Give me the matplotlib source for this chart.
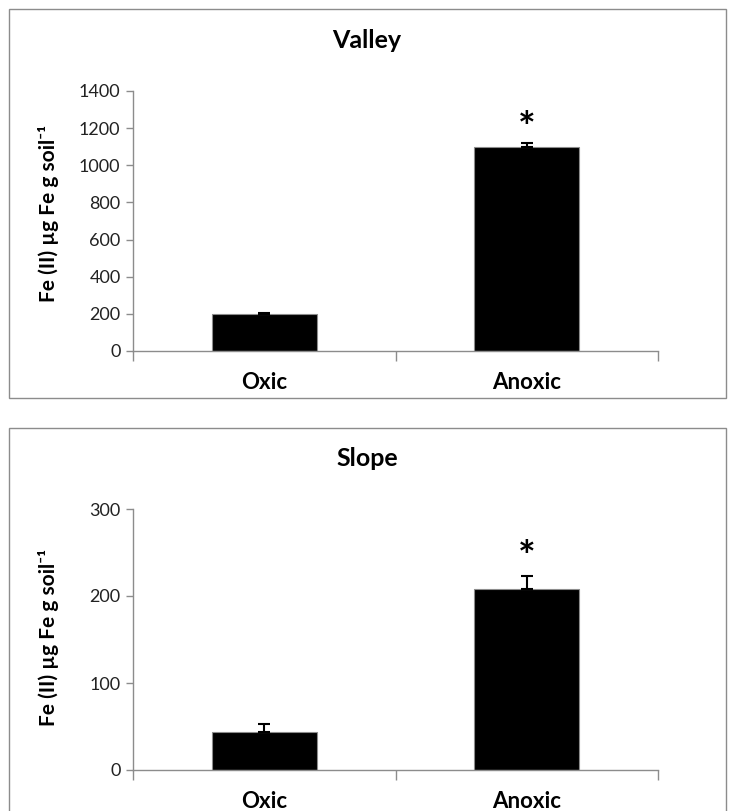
import matplotlib
matplotlib.use("Agg")
import matplotlib.pyplot as plt
from matplotlib.patches import Rectangle

categories = ["Oxic", "Anoxic"]
valley_values = [199, 1100]
valley_errors = [8, 18]
slope_values = [44, 208]
slope_errors = [8.5, 15.5]
valley_yticks = [0, 200, 400, 600, 800, 1000, 1200, 1400]
slope_yticks = [0, 100, 200, 300]
valley_star = 1190
slope_star = 242
ylabel = "Fe (II) µg Fe g soil⁻¹"

W, H = 729, 811
plt.rcParams['font.family'] = ['Lato', 'DejaVu Sans']
fig = plt.figure(figsize=(W / 100, H / 100), dpi=100)

def px_axes(x0, y_top, x1, y_bot):
    return fig.add_axes([x0 / W, 1 - y_bot / H, (x1 - x0) / W, (y_bot - y_top) / H])

# panel borders
fig.patches.append(Rectangle((9 / W, 1 - 398 / H), (726 - 9) / W, (398 - 9) / H,
                             transform=fig.transFigure, fill=False, edgecolor='#8c8c8c', lw=1.0))
fig.patches.append(Rectangle((9 / W, 1 - 815 / H), (726 - 9) / W, (815 - 428) / H,
                             transform=fig.transFigure, fill=False, edgecolor='#8c8c8c', lw=1.0))

gray = '#8c8c8c'

def style(ax, vals, errs, yticks, star, title, title_y, ylab_y):
    x = list(range(len(categories)))
    ax.bar(x, vals, width=0.4, color='black', edgecolor=gray, linewidth=0.8, zorder=2)
    ax.errorbar(x, vals, yerr=[[0] * len(errs), errs], fmt='none', ecolor='black',
                elinewidth=1.5, capsize=4, capthick=1.5, zorder=3)
    ax.set_xlim(-0.5, len(categories) - 0.5)
    ax.set_ylim(yticks[0], yticks[-1])
    ax.set_yticks(yticks)
    ax.set_yticklabels([str(t) for t in yticks], fontsize=13, color='#222222')
    ax.set_xticks(x)
    ax.set_xticklabels(categories, fontsize=16, fontweight='bold')
    ax.set_xticks([-0.5, 0.5, 1.5], minor=True)
    ax.tick_params(axis='x', which='major', length=0, pad=15)
    ax.tick_params(axis='x', which='minor', length=7, color=gray, width=1)
    ax.tick_params(axis='y', length=5, color=gray, width=1, pad=4)
    for s in ['top', 'right']:
        ax.spines[s].set_visible(False)
    for s in ['left', 'bottom']:
        ax.spines[s].set_color(gray)
        ax.spines[s].set_linewidth(1)
    ax.text(1, star, '*', ha='center', va='center', fontsize=30, fontweight='bold')
    fig.text(367 / W, 1 - title_y / H, title, ha='center', va='center',
             fontsize=18, fontweight='bold')
    fig.text(49 / W, 1 - ylab_y / H, ylabel, ha='center', va='center', rotation=90,
             fontsize=15, fontweight='bold')

ax1 = px_axes(133, 91, 658, 351)
style(ax1, valley_values, valley_errors, valley_yticks, valley_star, "Valley", 40, 213)

ax2 = px_axes(133, 509, 658, 770)
style(ax2, slope_values, slope_errors, slope_yticks, slope_star, "Slope", 459, 637)

fig.savefig("out.png", dpi=100)
